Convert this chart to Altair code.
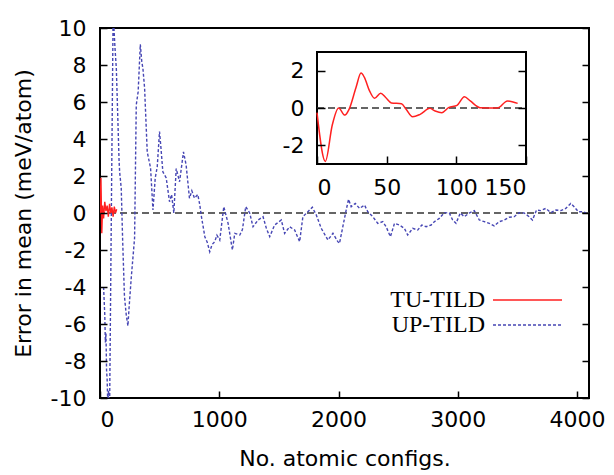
import altair as alt
import pandas as pd

# ---------------- data ----------------
up_x = [30, 40, 45, 50, 55, 60, 65, 72, 81, 109, 113, 117, 125, 137, 150, 160, 165, 178,
        190, 205, 220, 234, 245, 262, 290, 304, 320, 338, 350, 360, 374, 396, 424, 444,
        463, 480, 499, 510, 527, 555, 583, 600, 619, 639, 667, 700, 722, 750, 770, 792,
        820, 837, 848, 879, 900, 920, 940, 962, 980, 1004, 1038, 1074, 1110, 1130, 1172,
        1194, 1222, 1255, 1283, 1325, 1367, 1395, 1423, 1464, 1520, 1548, 1590, 1632,
        1674, 1701, 1743, 1780, 1813, 1855, 1911, 1953, 1994, 2008, 2036, 2064, 2084,
        2106, 2140, 2176, 2218, 2245, 2287, 2329, 2371, 2399, 2435, 2469, 2510, 2552,
        2580, 2622, 2664, 2698, 2734, 2776, 2803, 2845, 2887, 2929, 2957, 2985, 3021,
        3054, 3096, 3138, 3180, 3222, 3264, 3305, 3347, 3389, 3431, 3473, 3515, 3556,
        3598, 3626, 3660, 3696, 3738, 3780, 3822, 3864, 3905, 3947, 3975, 4011, 4045, 4075]
up_y = [-4.0, -5.5, -7.0, -6.5, -8.5, -9.0, -10.3, -9.6, -10.2, 10.0, 11.0, 10.0, 9.0, 7.8,
        5.0, 2.8, 2.2, 1.35, -1.5, -4.5, -5.5, -6.1, -5.0, -3.5, -1.35, 5.84, 6.56, 9.12,
        8.2, 7.8, 6.74, 3.3, 2.43, 0.16, 1.89, 2.5, 4.4, 3.6, 2.23, 1.9, 0.61, 1.0, 0.0,
        2.4, 1.69, 3.3, 2.6, 0.8, 1.2, 0.8, 1.0, 0.43, -0.1, -1.28, -1.6, -2.09, -1.7,
        -1.55, -1.2, -1.46, 0.34, -0.56, -2.0, -1.1, -1.19, -0.9, 0.34, 0.0, -0.74, -0.38,
        -0.2, -0.83, -1.28, -0.65, -0.38, -1.1, -0.74, -0.92, -1.55, -0.2, 0.07, 0.31,
        -0.1, -0.83, -1.46, -1.1, -1.55, -1.64, -0.74, 0.16, 0.74, 0.34, 0.52, 0.25, 0.43,
        0.07, -0.2, -0.56, -0.47, -0.74, -1.28, -0.56, -0.65, -0.83, -1.19, -0.83, -0.92,
        -0.65, -0.74, -0.65, -0.47, -0.29, 0.02, 0.0, -0.38, -0.56, 0.0, -0.2, 0.0, 0.13,
        -0.38, -0.47, -0.56, -0.7, -0.47, -0.38, -0.23, -0.2, 0.02, 0.0, -0.2, -0.38, 0.16,
        0.13, 0.25, 0.02, 0.16, 0.13, 0.25, 0.52, 0.34, 0.07, 0.07, 0.0]

tu_main_x = [0, 8, 15, 22, 30, 40, 50, 60, 70, 80, 90, 100, 110, 120, 130, 140]
tu_main_y = [0.0, 1.9, -1.1, 0.4, -0.3, 0.6, 0.1, 0.4, -0.2, 0.5, 0.0, 0.3, -0.2, 0.35, 0.0, 0.2]

tu_inset_x = [0, 6, 11, 15.5, 20, 23, 28, 31.6, 34, 37.7, 41.3, 45.7, 49.3, 53.4, 60.6, 64,
              68.6, 74, 81, 84.8, 89.6, 94.4, 100.5, 105.8, 110, 117, 129.5, 136.7, 144]
tu_inset_y = [-0.25, -2.86, -0.9, 0.0, -0.38, -0.07, 1.1, 1.87, 1.64, 0.92, 0.52, 0.79, 0.56,
              0.27, 0.23, -0.07, -0.47, -0.34, -0.02, -0.16, -0.25, 0.02, 0.14, 0.6, 0.38,
              0.02, 0.0, 0.38, 0.25]

main_x_ticks = [0, 1000, 2000, 3000, 4000]
main_y_ticks = [-10, -8, -6, -4, -2, 0, 2, 4, 6, 8, 10]
inset_x_ticks = [0, 50, 100, 150]
inset_y_ticks = [-2, 0, 2]
series_names = ["TU-TILD", "UP-TILD"]

# ---------------- styling / layout ----------------
W, H = 489, 370
IX0, IX1, IY0, IY1 = 217, 426, 24, 136
RED = "#ff2020"
BLUE = "#4646b4"
SANS = "DejaVu Sans"
SERIF = "Liberation Serif"
FS = 22
TK = 7
LBL = "'' + datum.value"

up_df = pd.DataFrame({"x": up_x, "y": up_y})
tu_main_df = pd.DataFrame({"x": tu_main_x, "y": tu_main_y})
tu_inset_df = pd.DataFrame({"x": tu_inset_x, "y": tu_inset_y})

xs = alt.Scale(domain=[0, 4100], nice=False, zero=False)
ys = alt.Scale(domain=[-10, 10], nice=False, zero=False)
ixs = alt.Scale(domain=[0, 150], range=[IX0, IX1], nice=False, zero=False)
iys = alt.Scale(domain=[-3, 3], range=[IY1, IY0], nice=False, zero=False)

common = dict(domain=False, grid=False, tickColor="black", tickWidth=1.5, zindex=1,
              labelFont=SANS, labelFontSize=FS, labelColor="black", labelExpr=LBL,
              titleFont=SANS, titleFontSize=FS, titleFontWeight="normal", titleColor="black")

ax_main_x = alt.Axis(orient="bottom", values=main_x_ticks, offset=-TK, tickSize=TK,
                     labelPadding=11, title="No. atomic configs.", titlePadding=18, **common)
ax_main_y = alt.Axis(orient="left", values=main_y_ticks, offset=-TK, tickSize=TK,
                     labelPadding=14, title="Error in mean (meV/atom)", titlePadding=15, **common)
ax_main_y2 = alt.Axis(orient="right", values=main_y_ticks, offset=-TK, tickSize=TK,
                      labels=False, title=None, domain=False, grid=False, tickColor="black",
                      tickWidth=1.5, zindex=1)

ax_in_x = alt.Axis(orient="bottom", values=inset_x_ticks, offset=-(H - IY1) - 8, tickSize=8,
                   labelPadding=13, title=None, **common)
ax_in_y = alt.Axis(orient="left", values=inset_y_ticks, offset=-IX0 - 8, tickSize=8,
                   labelPadding=13, title=None, **common)
ax_in_y2 = alt.Axis(orient="right", values=inset_y_ticks, offset=-(W - IX1) - 8, tickSize=8,
                    labels=False, title=None, domain=False, grid=False, tickColor="black",
                    tickWidth=1.5, zindex=1)

# ---------------- main panel ----------------
up_line = alt.Chart(up_df).mark_line(color=BLUE, strokeWidth=1.4, strokeDash=[3, 2],
                                     clip=True).encode(
    x=alt.X("x:Q", scale=xs, axis=ax_main_x),
    y=alt.Y("y:Q", scale=ys, axis=ax_main_y),
)
tu_line = alt.Chart(tu_main_df).mark_line(color=RED, strokeWidth=1.4, clip=True).encode(
    x=alt.X("x:Q", scale=xs, axis=None),
    y=alt.Y("y:Q", scale=ys, axis=ax_main_y2),
)
zero_main = alt.Chart(pd.DataFrame({"y": [0]})).mark_rule(
    color="#333333", strokeWidth=1.3, strokeDash=[7, 4]).encode(
    y=alt.Y("y:Q", scale=ys, axis=None),
)

legend_layers = []
for i, (name, col, dash) in enumerate(zip(series_names, [RED, BLUE], [[1, 0], [3, 2]])):
    yy = 272 + 25 * i
    legend_layers.append(
        alt.Chart(pd.DataFrame({"t": [name]})).mark_text(
            align="right", baseline="middle", font=SERIF, fontSize=24, color="black"
        ).encode(text="t:N", x=alt.value(385), y=alt.value(yy))
    )
    legend_layers.append(
        alt.Chart(pd.DataFrame({"t": [name]})).mark_rule(
            color=col, strokeWidth=1.4, strokeDash=dash
        ).encode(x=alt.value(393), x2=alt.value(462), y=alt.value(yy))
    )

main = alt.layer(zero_main, up_line, tu_line, *legend_layers).resolve_axis(
    x="independent", y="independent")

# ---------------- inset ----------------
frame_df = pd.DataFrame({"x0": [0], "x1": [150], "y0": [-3], "y1": [3]})
inset_frame = alt.Chart(frame_df).mark_rect(fill="white", stroke="black", strokeWidth=2).encode(
    x=alt.X("x0:Q", scale=ixs, axis=ax_in_x),
    x2="x1:Q",
    y=alt.Y("y0:Q", scale=iys, axis=ax_in_y),
    y2="y1:Q",
)
inset_zero = alt.Chart(pd.DataFrame({"x0": [0], "x1": [150], "y": [0]})).mark_rule(
    color="#333333", strokeWidth=1.3, strokeDash=[7, 4]).encode(
    x=alt.X("x0:Q", scale=ixs, axis=None),
    x2="x1:Q",
    y=alt.Y("y:Q", scale=iys, axis=None),
)
inset_line = alt.Chart(tu_inset_df).mark_line(color=RED, strokeWidth=1.5, clip=True,
                                             interpolate="monotone").encode(
    x=alt.X("x:Q", scale=ixs, axis=None),
    y=alt.Y("y:Q", scale=iys, axis=ax_in_y2),
)
inset = alt.layer(inset_frame, inset_zero, inset_line).resolve_axis(
    x="independent", y="independent")

chart = alt.layer(main, inset).resolve_scale(
    x="independent", y="independent"
).properties(
    width=W, height=H,
    autosize=alt.AutoSizeParams(type="none"),
    padding={"left": 100, "top": 28, "right": 25, "bottom": 77},
    background="white",
).configure_view(stroke="black", strokeWidth=2)

chart.save("out.html", embed_options={"renderer": "svg", "actions": False})
